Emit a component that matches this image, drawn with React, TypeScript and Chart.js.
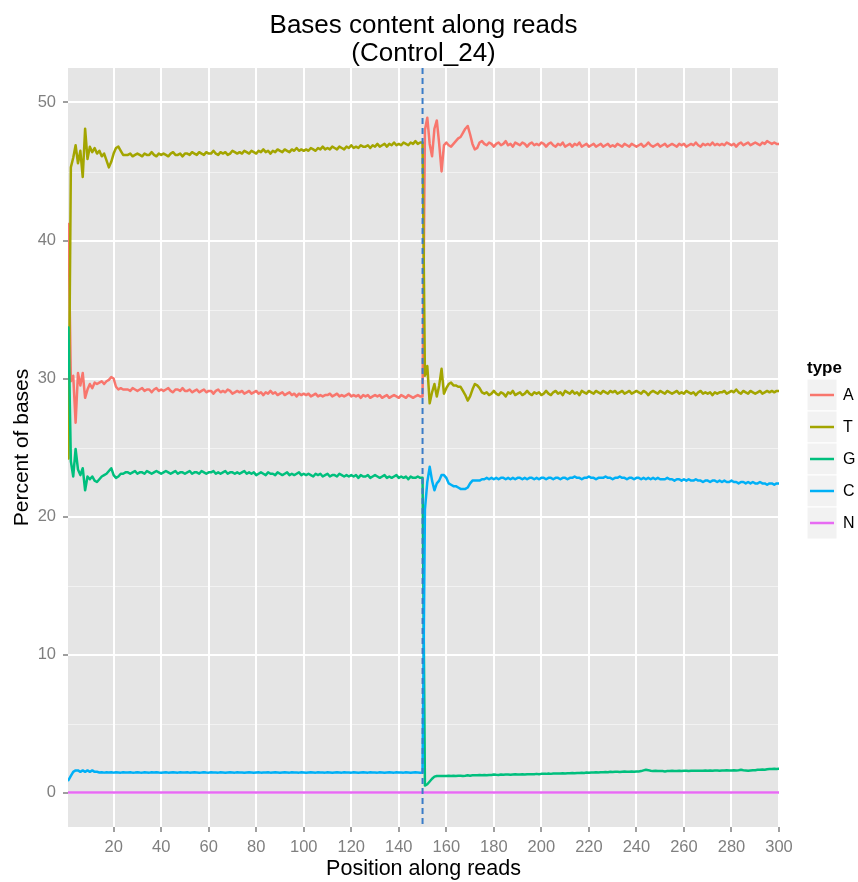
import { useEffect, useRef } from "react";
import { Chart, registerables } from "chart.js";

Chart.register(...registerables);

// Read positions 1..150 come from read 1, 151..300 from read 2.
const READ_SPLIT = 150;
const X_TICKS = [20, 40, 60, 80, 100, 120, 140, 160, 180, 200, 220, 240, 260, 280, 300];
const Y_TICKS = [0, 10, 20, 30, 40, 50];
const Y_MINOR = [5, 15, 25, 35, 45];

const BASES = ["A", "T", "G", "C", "N"];
const BASE_COLORS = ["#F8766D", "#A3A500", "#00BF7D", "#00B0F6", "#E76BF3"];

// Percent of each base at every position (read 1).
const A_READ1 = [
  41.2, 29.8, 30.2, 26.8, 30.4, 29.5, 30.4, 28.6, 29.2, 29.6, 29.3, 29.7, 29.6, 29.7, 29.8, 29.6, 29.8, 29.9, 30.1, 30.0, 29.4, 29.2, 29.3, 29.2, 29.2,
  29.2, 29.1, 29.3, 29.2, 29.1, 29.2, 29.3, 29.1, 29.2, 29.2, 29.0, 29.2, 29.3, 29.1, 29.2, 29.1, 29.2, 29.3, 29.1, 29.0, 29.2, 29.2, 29.1, 29.3, 29.1,
  29.1, 29.2, 29.0, 29.1, 29.2, 29.0, 29.1, 29.2, 29.0, 29.1, 29.1, 28.9, 29.1, 29.2, 29.0, 29.1, 29.0, 29.2, 29.1, 28.9, 29.0, 29.1, 29.0, 29.1, 28.9,
  29.0, 29.1, 28.9, 29.0, 29.1, 28.9, 29.0, 28.8, 29.0, 28.9, 29.1, 28.9, 29.0, 28.8, 28.9, 29.0, 28.8, 28.9, 29.0, 28.8, 28.9, 28.7, 28.9, 28.8, 28.9,
  28.8, 28.9, 28.7, 28.8, 28.9, 28.7, 28.8, 28.7, 28.8, 28.8, 28.9, 28.7, 28.8, 28.9, 28.7, 28.8, 28.7, 28.8, 28.9, 28.7, 28.8, 28.7, 28.8, 28.6, 28.8,
  28.7, 28.8, 28.6, 28.7, 28.8, 28.7, 28.8, 28.6, 28.7, 28.8, 28.6, 28.7, 28.8, 28.7, 28.6, 28.8, 28.7, 28.6, 28.8, 28.7, 28.6, 28.7, 28.8, 28.7, 28.7,
];
const T_READ1 = [
  24.2, 45.3, 46.0, 46.9, 45.6, 46.5, 44.6, 48.1, 45.9, 46.8, 46.4, 46.7, 46.3, 46.5, 46.1, 46.3, 45.8, 45.3, 45.7, 46.3, 46.7, 46.8, 46.5, 46.2, 46.2,
  46.2, 46.3, 46.1, 46.2, 46.3, 46.2, 46.1, 46.3, 46.2, 46.2, 46.4, 46.2, 46.1, 46.3, 46.2, 46.3, 46.2, 46.1, 46.3, 46.4, 46.2, 46.2, 46.3, 46.1, 46.3,
  46.3, 46.2, 46.4, 46.3, 46.2, 46.4, 46.3, 46.2, 46.4, 46.3, 46.3, 46.5, 46.3, 46.2, 46.4, 46.3, 46.4, 46.2, 46.3, 46.5, 46.4, 46.3, 46.4, 46.3, 46.5,
  46.4, 46.3, 46.5, 46.4, 46.3, 46.5, 46.4, 46.6, 46.4, 46.5, 46.3, 46.5, 46.4, 46.6, 46.5, 46.4, 46.6, 46.5, 46.4, 46.6, 46.5, 46.7, 46.5, 46.6, 46.5,
  46.6, 46.5, 46.7, 46.6, 46.5, 46.7, 46.6, 46.8, 46.6, 46.7, 46.6, 46.8, 46.7, 46.6, 46.8, 46.7, 46.6, 46.8, 46.7, 46.9, 46.7, 46.8, 46.7, 46.9, 46.8,
  46.8, 46.9, 46.7, 46.9, 46.8, 47.0, 46.8, 46.9, 47.0, 46.8, 47.0, 46.9, 47.1, 46.9, 47.0, 46.9, 47.1, 47.0, 46.9, 47.1, 47.0, 47.2, 47.0, 47.1, 47.1,
];
const G_READ1 = [
  33.7, 24.0, 22.9, 24.9, 23.4, 23.0, 23.5, 21.9, 22.9, 22.7, 22.9, 22.6, 22.5, 22.7, 22.9, 23.0, 23.1, 23.3, 23.5, 23.0, 22.8, 22.9, 23.1, 23.1, 23.2,
  23.2, 23.1, 23.2, 23.3, 23.1, 23.2, 23.2, 23.1, 23.3, 23.2, 23.1, 23.2, 23.3, 23.2, 23.1, 23.2, 23.3, 23.2, 23.1, 23.2, 23.3, 23.1, 23.2, 23.2, 23.1,
  23.2, 23.3, 23.1, 23.2, 23.2, 23.1, 23.3, 23.2, 23.1, 23.2, 23.2, 23.3, 23.1, 23.2, 23.1, 23.2, 23.3, 23.1, 23.2, 23.2, 23.1, 23.2, 23.1, 23.2, 23.3,
  23.1, 23.2, 23.1, 23.2, 23.0, 23.1, 23.2, 23.1, 23.0, 23.2, 23.1, 23.1, 23.0, 23.2, 23.1, 23.0, 23.1, 23.2, 23.0, 23.1, 23.0, 23.1, 23.2, 23.0, 23.1,
  23.0, 23.1, 23.0, 22.9, 23.1, 23.0, 23.1, 22.9, 23.0, 23.1, 22.9, 23.0, 23.0, 22.9, 23.1, 23.0, 22.9, 23.0, 22.9, 23.0, 22.9, 23.0, 22.8, 23.0, 22.9,
  22.9, 23.0, 22.8, 22.9, 23.0, 22.9, 22.8, 22.9, 23.0, 22.8, 22.9, 22.8, 22.9, 23.0, 22.8, 22.9, 22.8, 22.9, 22.7, 22.9, 22.8, 22.8, 22.9, 22.8, 22.8,
];
const C_READ1 = [
  0.9, 1.2, 1.5, 1.6, 1.6, 1.5, 1.6, 1.5, 1.6, 1.5, 1.6, 1.5, 1.5, 1.45, 1.47, 1.44, 1.46, 1.45, 1.47, 1.44, 1.46, 1.45, 1.44, 1.46, 1.45,
  1.45, 1.46, 1.44, 1.45, 1.47, 1.45, 1.44, 1.46, 1.45, 1.44, 1.46, 1.45, 1.47, 1.45, 1.44, 1.45, 1.46, 1.44, 1.45, 1.46, 1.45, 1.44, 1.46, 1.45, 1.45,
  1.46, 1.44, 1.45, 1.46, 1.45, 1.44, 1.45, 1.47, 1.45, 1.44, 1.46, 1.45, 1.45, 1.44, 1.46, 1.45, 1.44, 1.45, 1.46, 1.45, 1.44, 1.46, 1.45, 1.45, 1.44,
  1.45, 1.46, 1.45, 1.44, 1.45, 1.46, 1.44, 1.45, 1.45, 1.46, 1.44, 1.45, 1.46, 1.45, 1.44, 1.45, 1.46, 1.45, 1.44, 1.46, 1.45, 1.45, 1.44, 1.46, 1.45,
  1.44, 1.45, 1.46, 1.45, 1.44, 1.46, 1.45, 1.45, 1.44, 1.46, 1.45, 1.44, 1.45, 1.46, 1.45, 1.44, 1.46, 1.45, 1.45, 1.44, 1.46, 1.45, 1.44, 1.45, 1.46,
  1.45, 1.44, 1.46, 1.45, 1.45, 1.44, 1.46, 1.45, 1.44, 1.45, 1.46, 1.45, 1.44, 1.46, 1.45, 1.45, 1.44, 1.46, 1.45, 1.44, 1.45, 1.46, 1.45, 1.44, 1.45,
];

// Percent of each base at every position (read 2).
const A_READ2 = [
  48.0, 48.9, 47.0, 46.1, 48.1, 48.7, 47.0, 45.0, 46.9, 47.1, 46.9, 46.8, 47.0, 47.2, 47.4, 47.5, 47.8, 48.1, 48.3, 47.7, 47.0, 46.6, 46.7, 47.1, 47.2,
  47.0, 46.9, 47.1, 47.0, 46.8, 47.0, 47.1, 46.9, 47.0, 47.2, 46.9, 47.0, 46.8, 47.1, 47.0, 46.9, 47.1, 47.0, 46.8, 47.0, 47.1, 46.9, 47.0, 46.9, 47.1,
  47.0, 46.8, 47.0, 47.1, 46.9, 46.8, 47.0, 46.9, 47.1, 46.8, 46.9, 47.0, 46.8, 47.0, 46.9, 47.1, 46.8, 46.9, 47.0, 46.8, 46.9, 47.0, 46.8, 46.9, 47.0,
  46.8, 46.9, 47.0, 46.8, 46.9, 46.8, 47.0, 46.9, 46.8, 47.0, 46.9, 46.8, 47.0, 46.9, 46.8, 46.9, 47.0, 46.8, 46.9, 47.1, 46.9, 46.8, 46.9, 47.0, 46.8,
  46.9, 47.0, 46.8, 46.9, 47.0, 46.9, 46.8, 47.0, 46.9, 47.0, 46.8, 46.9, 47.0, 46.9, 47.1, 46.9, 46.8, 47.0, 46.9, 47.0, 46.9, 47.1, 46.9, 47.0, 46.9,
  47.0, 46.9, 47.1, 47.0, 46.9, 47.0, 46.8, 47.0, 47.1, 46.9, 47.0, 47.1, 46.9, 47.0, 47.1, 47.0, 46.9, 47.1, 47.0, 47.2, 47.1, 47.0, 47.1, 47.0, 47.0,
];
const T_READ2 = [
  30.2, 30.9, 28.2, 29.0, 29.6, 28.7, 29.5, 30.7, 28.9, 29.3, 29.6, 29.7, 29.5, 29.5, 29.4, 29.4, 29.1, 28.8, 28.4, 28.7, 29.2, 29.6, 29.5, 29.3, 29.0,
  28.9, 29.0, 28.8, 28.9, 29.1, 28.9, 28.8, 29.0, 28.9, 28.7, 29.0, 28.9, 29.1, 28.8, 28.9, 29.0, 28.8, 28.9, 29.1, 28.9, 28.8, 29.0, 28.9, 29.0, 28.8,
  28.9, 29.1, 28.9, 28.8, 29.0, 29.1, 28.9, 29.0, 28.8, 29.1, 29.0, 28.9, 29.1, 28.9, 29.0, 28.8, 29.1, 29.0, 28.9, 29.1, 29.0, 28.9, 29.1, 29.0, 28.9,
  29.1, 29.0, 28.9, 29.1, 29.0, 29.1, 28.9, 29.0, 29.1, 28.9, 29.0, 29.1, 28.9, 29.0, 29.1, 29.0, 28.9, 29.1, 29.0, 28.8, 29.0, 29.1, 29.0, 28.9, 29.1,
  29.0, 28.9, 29.1, 29.0, 28.9, 29.0, 29.1, 28.9, 29.0, 28.9, 29.1, 29.0, 28.9, 29.0, 28.8, 29.0, 29.1, 28.9, 29.0, 28.9, 29.0, 28.8, 29.0, 28.9, 29.0,
  29.0, 29.1, 28.9, 29.0, 29.1, 29.0, 29.2, 29.0, 28.9, 29.1, 29.0, 28.9, 29.1, 29.0, 28.9, 29.0, 29.1, 28.9, 29.0, 29.1, 29.0, 29.1, 29.0, 29.1, 29.1,
];
const G_READ2 = [
  0.5, 0.6, 0.8, 1.0, 1.15, 1.2, 1.2, 1.2, 1.2, 1.2, 1.22, 1.2, 1.22, 1.2, 1.22, 1.22, 1.2, 1.22, 1.25, 1.22, 1.25, 1.25, 1.25, 1.27, 1.25,
  1.27, 1.25, 1.27, 1.27, 1.3, 1.28, 1.27, 1.3, 1.28, 1.3, 1.3, 1.28, 1.3, 1.32, 1.3, 1.3, 1.32, 1.3, 1.33, 1.32, 1.33, 1.32, 1.35, 1.33, 1.35,
  1.35, 1.35, 1.37, 1.35, 1.37, 1.37, 1.38, 1.37, 1.4, 1.38, 1.4, 1.4, 1.42, 1.4, 1.42, 1.42, 1.43, 1.42, 1.45, 1.43, 1.45, 1.45, 1.47, 1.45, 1.47,
  1.47, 1.48, 1.47, 1.5, 1.48, 1.5, 1.5, 1.48, 1.5, 1.52, 1.5, 1.5, 1.52, 1.5, 1.52, 1.53, 1.55, 1.6, 1.65, 1.62, 1.58, 1.55, 1.57, 1.55, 1.55,
  1.55, 1.53, 1.55, 1.55, 1.57, 1.55, 1.55, 1.57, 1.55, 1.57, 1.57, 1.55, 1.57, 1.58, 1.57, 1.58, 1.57, 1.58, 1.6, 1.58, 1.6, 1.58, 1.6, 1.6, 1.58,
  1.6, 1.6, 1.62, 1.6, 1.6, 1.62, 1.6, 1.62, 1.65, 1.62, 1.6, 1.58, 1.6, 1.62, 1.62, 1.65, 1.65, 1.67, 1.65, 1.68, 1.7, 1.7, 1.72, 1.7, 1.72,
];
const C_READ2 = [
  20.5, 22.5, 23.6, 22.6, 21.9, 22.4, 22.6, 23.0, 23.0, 22.8, 22.4, 22.3, 22.2, 22.2, 22.1, 22.0, 22.0, 22.0, 22.1, 22.4, 22.6, 22.6, 22.6, 22.6, 22.7,
  22.7, 22.8, 22.7, 22.8, 22.7, 22.8, 22.7, 22.8, 22.8, 22.7, 22.8, 22.7, 22.8, 22.7, 22.8, 22.8, 22.7, 22.8, 22.7, 22.8, 22.8, 22.7, 22.8, 22.7, 22.8,
  22.8, 22.7, 22.8, 22.8, 22.7, 22.8, 22.8, 22.7, 22.8, 22.8, 22.7, 22.8, 22.8, 22.9, 22.8, 22.8, 22.7, 22.8, 22.8, 22.9, 22.8, 22.8, 22.7, 22.8, 22.8,
  22.8, 22.9, 22.8, 22.8, 22.7, 22.8, 22.8, 22.9, 22.8, 22.8, 22.7, 22.8, 22.8, 22.7, 22.8, 22.8, 22.7, 22.8, 22.7, 22.8, 22.7, 22.8, 22.7, 22.8, 22.7,
  22.7, 22.7, 22.8, 22.7, 22.7, 22.6, 22.7, 22.7, 22.6, 22.7, 22.6, 22.7, 22.6, 22.6, 22.7, 22.6, 22.6, 22.5, 22.6, 22.6, 22.5, 22.6, 22.6, 22.5, 22.6,
  22.5, 22.6, 22.5, 22.5, 22.6, 22.5, 22.5, 22.4, 22.5, 22.5, 22.4, 22.5, 22.4, 22.5, 22.4, 22.4, 22.5, 22.4, 22.4, 22.3, 22.4, 22.4, 22.3, 22.4, 22.4,
];

// No N calls anywhere along the reads.
const N_ALL = [
  0, 0, 0, 0, 0, 0, 0, 0, 0, 0, 0, 0, 0, 0, 0, 0, 0, 0, 0, 0, 0, 0, 0, 0, 0,
  0, 0, 0, 0, 0, 0, 0, 0, 0, 0, 0, 0, 0, 0, 0, 0, 0, 0, 0, 0, 0, 0, 0, 0, 0,
  0, 0, 0, 0, 0, 0, 0, 0, 0, 0, 0, 0, 0, 0, 0, 0, 0, 0, 0, 0, 0, 0, 0, 0, 0,
  0, 0, 0, 0, 0, 0, 0, 0, 0, 0, 0, 0, 0, 0, 0, 0, 0, 0, 0, 0, 0, 0, 0, 0, 0,
  0, 0, 0, 0, 0, 0, 0, 0, 0, 0, 0, 0, 0, 0, 0, 0, 0, 0, 0, 0, 0, 0, 0, 0, 0,
  0, 0, 0, 0, 0, 0, 0, 0, 0, 0, 0, 0, 0, 0, 0, 0, 0, 0, 0, 0, 0, 0, 0, 0, 0,
  0, 0, 0, 0, 0, 0, 0, 0, 0, 0, 0, 0, 0, 0, 0, 0, 0, 0, 0, 0, 0, 0, 0, 0, 0,
  0, 0, 0, 0, 0, 0, 0, 0, 0, 0, 0, 0, 0, 0, 0, 0, 0, 0, 0, 0, 0, 0, 0, 0, 0,
  0, 0, 0, 0, 0, 0, 0, 0, 0, 0, 0, 0, 0, 0, 0, 0, 0, 0, 0, 0, 0, 0, 0, 0, 0,
  0, 0, 0, 0, 0, 0, 0, 0, 0, 0, 0, 0, 0, 0, 0, 0, 0, 0, 0, 0, 0, 0, 0, 0, 0,
  0, 0, 0, 0, 0, 0, 0, 0, 0, 0, 0, 0, 0, 0, 0, 0, 0, 0, 0, 0, 0, 0, 0, 0, 0,
  0, 0, 0, 0, 0, 0, 0, 0, 0, 0, 0, 0, 0, 0, 0, 0, 0, 0, 0, 0, 0, 0, 0, 0, 0,
];

const SERIES_VALUES = [
  [...A_READ1, ...A_READ2],
  [...T_READ1, ...T_READ2],
  [...G_READ1, ...G_READ2],
  [...C_READ1, ...C_READ2],
  N_ALL,
];

const FONT = "'Liberation Sans', Arial, Helvetica, sans-serif";
const PANEL_BG = "#E5E5E5";
const MINOR_GRID = "#F2F2F2";
const AXIS_GREY = "#7F7F7F";
const LINE_WIDTH = 2.5;

const W = 858;
const H = 882;

const decorPlugin = {
  id: "ggDecor",
  beforeDraw(chart: any) {
    const { ctx, chartArea: a, scales } = chart;
    ctx.save();
    ctx.fillStyle = "#FFFFFF";
    ctx.fillRect(0, 0, chart.width, chart.height);
    ctx.fillStyle = PANEL_BG;
    ctx.fillRect(a.left, a.top, a.right - a.left, a.bottom - a.top);
    ctx.strokeStyle = MINOR_GRID;
    ctx.lineWidth = 1;
    for (const v of Y_MINOR) {
      const y = Math.round(scales.y.getPixelForValue(v)) + 0.5;
      ctx.beginPath();
      ctx.moveTo(a.left, y);
      ctx.lineTo(a.right, y);
      ctx.stroke();
    }
    ctx.restore();
  },
  afterDatasetsDraw(chart: any) {
    const { ctx, chartArea: a, scales } = chart;
    const x = scales.x.getPixelForValue(READ_SPLIT);
    ctx.save();
    ctx.beginPath();
    ctx.rect(a.left, a.top, a.right - a.left, a.bottom - a.top);
    ctx.clip();
    ctx.strokeStyle = "#3A7CC8";
    ctx.lineWidth = 2;
    ctx.setLineDash([6, 4]);
    ctx.beginPath();
    ctx.moveTo(x, a.top);
    ctx.lineTo(x, a.bottom);
    ctx.stroke();
    ctx.restore();
  },
  afterDraw(chart: any) {
    const { ctx, chartArea: a } = chart;
    const cx = (a.left + a.right) / 2;
    const cy = (a.top + a.bottom) / 2;
    ctx.save();
    ctx.fillStyle = "#000000";
    ctx.textAlign = "center";
    ctx.textBaseline = "alphabetic";
    ctx.font = `26px ${FONT}`;
    ctx.fillText("Bases content along reads", cx, 33);
    ctx.fillText("(Control_24)", cx, 61);

    ctx.font = `21.5px ${FONT}`;
    ctx.fillText("Position along reads", cx, 875);

    ctx.save();
    ctx.translate(22, cy);
    ctx.rotate(-Math.PI / 2);
    ctx.textBaseline = "middle";
    ctx.font = `21px ${FONT}`;
    ctx.fillText("Percent of bases", 0, 0);
    ctx.restore();

    // legend
    const keyLeft = 807;
    const keyW = 30;
    const keyH = 32;
    const firstRow = 395;
    ctx.textAlign = "left";
    ctx.textBaseline = "alphabetic";
    ctx.font = `bold 17px ${FONT}`;
    ctx.fillText("type", keyLeft, 373);
    BASES.forEach((b, i) => {
      const yc = firstRow + i * keyH;
      ctx.fillStyle = MINOR_GRID;
      ctx.fillRect(keyLeft, yc - keyH / 2, keyW, keyH);
      ctx.strokeStyle = "#FFFFFF";
      ctx.lineWidth = 1;
      ctx.strokeRect(keyLeft, yc - keyH / 2, keyW, keyH);
      ctx.strokeStyle = BASE_COLORS[i];
      ctx.lineWidth = LINE_WIDTH;
      ctx.beginPath();
      ctx.moveTo(keyLeft + 3, yc);
      ctx.lineTo(keyLeft + keyW - 3, yc);
      ctx.stroke();
      ctx.fillStyle = "#000000";
      ctx.font = `16px ${FONT}`;
      ctx.textBaseline = "middle";
      ctx.fillText(b, keyLeft + keyW + 6, yc + 1);
    });
    ctx.restore();
  },
};

export default function App() {
  const canvasRef = useRef<HTMLCanvasElement | null>(null);

  useEffect(() => {
    const canvas = canvasRef.current;
    if (!canvas) return;

    const datasets = SERIES_VALUES.map((values, i) => ({
      label: BASES[i],
      data: values.map((v, k) => ({ x: k + 1, y: v })),
      borderColor: BASE_COLORS[i],
      backgroundColor: BASE_COLORS[i],
      borderWidth: LINE_WIDTH,
      pointRadius: 0,
      tension: 0,
      fill: false,
      order: BASES.length - i,
    }));

    const chart = new Chart(canvas, {
      type: "line",
      data: { datasets },
      options: {
        animation: false,
        responsive: false,
        maintainAspectRatio: false,
        layout: { padding: { left: 0, top: 68, right: 79, bottom: 0 } },
        elements: {
          line: { borderJoinStyle: "round", borderCapStyle: "round" },
          point: { radius: 0 },
        },
        plugins: {
          legend: { display: false },
          title: { display: false },
          tooltip: { enabled: false },
        },
        scales: {
          x: {
            type: "linear",
            min: 0.8,
            max: 300,
            afterBuildTicks: (s: any) => {
              s.ticks = X_TICKS.map((v) => ({ value: v }));
            },
            afterFit: (s: any) => {
              s.height = H - 827;
            },
            border: { display: false },
            grid: {
              color: "#FFFFFF",
              lineWidth: 2,
              drawTicks: true,
              tickLength: 5,
              tickColor: AXIS_GREY,
              tickWidth: 1.5,
            },
            ticks: {
              color: AXIS_GREY,
              font: { family: FONT, size: 16.5 },
              padding: 6,
              maxRotation: 0,
              autoSkip: false,
            },
          },
          y: {
            type: "linear",
            min: -2.5,
            max: 52.5,
            afterBuildTicks: (s: any) => {
              s.ticks = Y_TICKS.map((v) => ({ value: v }));
            },
            afterFit: (s: any) => {
              s.width = 68;
            },
            border: { display: false },
            grid: {
              color: "#FFFFFF",
              lineWidth: 2,
              drawTicks: true,
              tickLength: 5,
              tickColor: AXIS_GREY,
              tickWidth: 1.5,
            },
            ticks: {
              color: AXIS_GREY,
              font: { family: FONT, size: 16.5 },
              padding: 7,
            },
          },
        },
      },
      plugins: [decorPlugin],
    } as any);

    return () => chart.destroy();
  }, []);

  return (
    <div style={{ position: "absolute", left: 0, top: 0, width: W, height: H, background: "#FFFFFF" }}>
      <canvas ref={canvasRef} width={W} height={H} style={{ display: "block", width: W, height: H }} />
    </div>
  );
}
